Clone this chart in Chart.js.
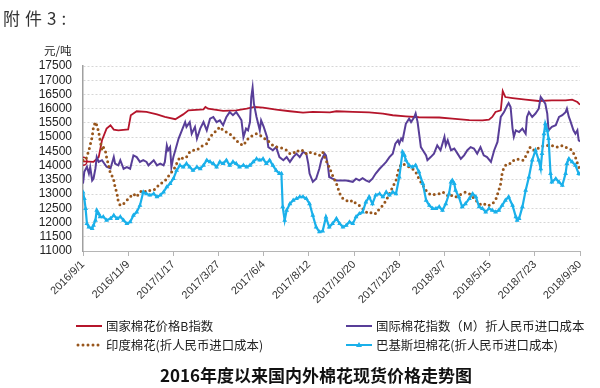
<!DOCTYPE html>
<html>
<head>
<meta charset="utf-8">
<script src="https://cdn.jsdelivr.net/npm/chart.js@4.4.0/dist/chart.umd.min.js"></script>
<style>
body { margin: 0; background: #fff; }
#wrap { position: relative; width: 600px; height: 388px; overflow: hidden; font-family: "Noto Sans CJK SC", sans-serif; color: #222; }
#chart { position: absolute; left: 0; top: 0; }
.txt { position: absolute; white-space: nowrap; }
.lg { position: absolute; display: flex; align-items: center; height: 16px; font-size: 12.4px; white-space: nowrap; }
.lg svg { margin-right: 4px; }
</style>
</head>
<body>
<div id="wrap">
  <canvas id="chart" width="600" height="388"></canvas>
  <div class="txt" style="left:3px;top:5px;font-size:17px;letter-spacing:5px;color:#333;">附件3:</div>
  <div class="txt" style="left:44px;top:42px;font-size:11.5px;">元/吨</div>

  <div class="lg" style="left:76px;top:318px">
    <svg width="26" height="10"><line x1="0" y1="5" x2="26" y2="5" stroke="#b5152b" stroke-width="2"/></svg>
    <span>国家棉花价格B指数</span>
  </div>
  <div class="lg" style="left:346px;top:318px">
    <svg width="26" height="10"><line x1="0" y1="5" x2="26" y2="5" stroke="#583e98" stroke-width="2"/></svg>
    <span>国际棉花指数（M）折人民币进口成本</span>
  </div>
  <div class="lg" style="left:76px;top:337px">
    <svg width="26" height="10"><line x1="2" y1="5" x2="25" y2="5" stroke="#98561c" stroke-width="3" stroke-dasharray="0 5" stroke-linecap="round"/></svg>
    <span>印度棉花(折人民币进口成本)</span>
  </div>
  <div class="lg" style="left:346px;top:337px">
    <svg width="26" height="10"><line x1="0" y1="5" x2="26" y2="5" stroke="#1ab0ea" stroke-width="2"/><polygon points="13,2 16,7 10,7" fill="#1ab0ea"/></svg>
    <span>巴基斯坦棉花(折人民币进口成本)</span>
  </div>

  <div class="txt" style="left:160px;top:362px;font-size:17px;font-weight:bold;color:#111;">2016年度以来国内外棉花现货价格走势图</div>
</div>

<script>
// days counted from 2016/9/1, values in 元/吨
const redDays = [0,16,24,29,36,42,47,54,69,73,82,97,113,125,141,153,161,184,187,191,214,234,250,262,275,295,316,336,351,377,387,412,437,458,473,493,513,544,564,590,610,620,625,630,638,641,645,656,676,696,716,737,747,755,759];
const redVals = [14150,14130,14300,14890,15300,15420,15265,15240,15275,15770,15910,15885,15800,15710,15630,15800,15940,15975,16060,16000,15920,15940,16000,16060,16040,15965,15910,15860,15885,15870,15910,15885,15870,15825,15770,15730,15700,15690,15650,15600,15590,15615,15710,15885,15940,16620,16410,16375,16320,16270,16290,16290,16320,16235,16140];

const purpleDays = [0,2,6,9,11,14,16,19,21,24,29,36,42,47,49,54,57,62,67,72,77,82,87,92,97,100,108,113,118,123,125,128,130,133,135,138,141,146,151,156,158,163,166,171,174,179,184,189,194,199,204,209,214,219,224,229,234,239,242,245,249,252,255,257,259,261,265,270,272,276,281,283,290,295,300,306,311,316,321,326,331,336,341,344,346,351,356,361,364,369,371,374,376,381,387,392,402,412,417,422,427,432,437,442,447,453,458,463,468,473,477,481,483,486,488,493,498,501,506,508,511,513,516,519,524,526,531,536,541,546,552,554,557,562,567,572,577,582,587,592,597,602,607,612,617,623,628,633,638,643,648,650,653,656,658,661,666,671,676,678,681,686,691,696,699,701,706,709,711,716,722,727,732,737,739,742,744,749,752,755,757,759];
const purpleVals = [13370,13780,13960,13720,13950,13480,13540,13900,14300,14130,14190,13960,13900,14300,14070,14010,14190,13890,13950,13890,14360,14300,14130,14190,14130,14010,14190,14010,14070,14010,14130,14710,14540,14650,13950,14300,14540,14950,15240,15530,15360,15530,15120,15360,14950,15300,15530,15240,15650,15710,15530,15590,15420,15710,15880,15770,15880,15710,15590,15000,15300,15240,15530,16410,16740,16180,15710,15240,15590,15360,15010,14650,14540,14650,14300,14190,14300,14130,14300,14420,14300,14480,14420,14070,13720,13430,13540,13900,14190,14420,14360,14010,13600,13540,13480,13480,13480,13430,13540,13480,13560,13480,13430,13540,13720,13890,14010,14130,14300,14420,14770,14890,14770,14950,14890,15470,15650,15530,15710,15830,15530,15180,14650,14540,14360,14190,14300,14420,14710,14540,15010,14710,14890,14540,14600,14420,14240,14360,14540,14650,14600,14420,14650,14360,14300,14130,14540,14830,15710,15880,16120,16200,16060,15300,15010,15240,15180,15300,15120,15710,15880,15710,15830,16000,16410,16350,16180,15830,15240,15360,15420,15710,15770,15880,16000,15710,15590,15240,15120,15240,14890,14850];

const brownDays = [0,4,9,14,16,19,21,24,26,29,31,34,36,39,42,44,47,49,52,54,57,62,67,72,77,82,87,92,97,102,108,113,118,123,128,133,138,143,148,153,158,163,168,174,179,184,189,194,199,204,209,214,219,224,229,234,239,245,250,255,260,265,270,275,280,285,290,295,300,305,311,316,321,326,331,336,341,346,351,356,361,366,371,376,381,387,392,397,402,407,412,417,422,427,432,437,442,447,453,458,463,468,473,478,483,488,493,498,503,508,513,519,524,529,534,539,544,549,554,559,564,569,574,579,584,590,595,600,605,610,615,620,625,630,635,638,640,643,648,653,658,663,668,673,678,683,689,694,699,704,716,722,727,732,737,742,747,752,757,759];
const brownVals = [14190,14190,14540,15010,15360,15530,15420,15180,14890,14540,14650,14540,14300,14010,13720,13660,13480,13250,13010,12720,12600,12660,12780,12900,13010,12900,13070,13130,13070,13130,13130,13250,13370,13420,13540,13720,13830,14070,14300,14240,14300,14480,14540,14540,14650,14710,14770,15010,15120,15240,15360,15240,15180,15120,15010,14890,14770,14710,14890,15010,15060,15120,15060,15010,14890,14830,14710,14650,14650,14600,14540,14420,14420,14540,14480,14540,14420,14480,14420,14420,14360,14480,14190,13950,13660,13370,13020,12840,12780,12720,12780,12660,12600,12490,12370,12310,12370,12310,12490,12600,12780,13010,13250,13480,13950,14070,14010,13950,13890,13780,13540,13310,13130,13010,12960,13010,13010,13070,13010,12900,12960,12900,12960,13010,13070,13010,12900,12780,12660,12600,12660,12600,12660,12780,13130,13370,13720,13950,14070,14070,14190,14240,14190,14190,14420,14650,14540,14600,14650,14710,14710,14650,14650,14710,14650,14600,14540,14300,13950,13900];

const cyanDays = [0,2,4,6,9,14,16,19,21,24,26,31,36,42,47,52,57,62,67,72,77,82,87,92,97,102,108,113,118,123,128,133,138,143,148,153,158,163,168,174,179,184,189,194,199,204,209,214,219,224,229,234,239,245,250,255,260,265,270,275,280,285,290,295,300,303,305,308,311,316,321,326,331,336,341,346,351,356,361,366,371,376,381,387,392,397,402,407,412,417,422,427,432,437,442,447,453,458,463,468,473,478,483,488,491,493,498,503,508,513,519,524,529,534,539,544,549,554,559,562,564,567,569,574,579,584,590,595,600,605,610,615,620,625,630,635,640,645,650,656,661,663,666,671,676,681,686,691,696,699,701,704,706,709,711,714,716,722,727,732,737,739,742,747,752,757,759];
const cyanVals = [13070,12840,12490,11960,11840,11790,11900,12080,12430,12310,12200,12200,12080,12140,12250,12140,12200,12080,11960,12020,12250,12370,12600,13070,13010,12960,13010,12900,12960,13070,13250,13370,13540,13830,14010,13950,14070,13950,13830,13950,13890,14010,14190,14130,14070,13950,14130,14070,14190,14010,14130,14070,13950,14010,13950,14010,14130,14240,14190,14240,14070,14190,14010,13830,13720,13720,12550,12080,12430,12660,12780,12840,12900,12900,12840,12660,12250,11840,11670,11700,12190,11840,11960,12140,11960,11840,11900,12020,11960,12200,12310,12370,12720,12900,12660,12960,13010,12900,13070,12960,13070,13010,13600,14480,14360,14190,14010,13950,14010,13780,13370,12780,12600,12490,12490,12550,12430,12660,13010,13420,13480,13370,13130,12900,12550,12660,12840,13010,12900,12550,12490,12370,12490,12430,12370,12430,12600,12780,12900,12600,12200,12080,12140,12550,13130,13600,14190,14540,14190,13890,14420,15120,15470,15240,14950,13720,13420,13540,13420,13310,13720,14070,14240,14130,14010,13720,13700];

const xMax = 759;
const xStep = 69;
const yMin = 11000;
const yMax = 17500;
const yStep = 500;

function pts(days, vals) {
    return days.map(function (d, i) { return { x: d, y: vals[i] }; });
}

function dayLabel(v) {
    let t = new Date(2016, 8, 1 + Math.round(v));
    return t.getFullYear() + '/' + (t.getMonth() + 1) + '/' + t.getDate();
}

let ctx = document.getElementById('chart').getContext('2d');
const cottonChart = new Chart(ctx, {
    type: 'line',
    data: {
        datasets: [{
            label: '国家棉花价格B指数',
            data: pts(redDays, redVals),
            borderColor: '#b5152b',
            borderWidth: 1.8,
            pointRadius: function (c) { return c.dataIndex === 0 ? 4 : 0; },
            pointBorderColor: '#b5152b',
            pointBackgroundColor: 'rgba(0,0,0,0)',
            pointBorderWidth: 1.5,
            tension: 0,
            order: 4
        }, {
            label: '国际棉花指数（M）折人民币进口成本',
            data: pts(purpleDays, purpleVals),
            borderColor: '#583e98',
            borderWidth: 2,
            pointRadius: 0,
            tension: 0,
            order: 3
        }, {
            label: '印度棉花(折人民币进口成本)',
            data: pts(brownDays, brownVals),
            borderColor: '#98561c',
            borderWidth: 3,
            borderDash: [0, 5],
            borderCapStyle: 'round',
            pointRadius: 0,
            tension: 0,
            order: 2
        }, {
            label: '巴基斯坦棉花(折人民币进口成本)',
            data: pts(cyanDays, cyanVals),
            borderColor: '#1ab0ea',
            backgroundColor: '#1ab0ea',
            borderWidth: 2.2,
            pointStyle: 'triangle',
            pointRadius: 2.8,
            pointBorderWidth: 0,
            pointBackgroundColor: '#1ab0ea',
            tension: 0,
            order: 1
        }]
    },
    options: {
        responsive: false,
        animation: false,
        devicePixelRatio: 1,
        layout: { padding: { left: 0, right: 20, top: 66, bottom: 0 } },
        plugins: {
            legend: { display: false },
            tooltip: { enabled: false }
        },
        scales: {
            x: {
                type: 'linear',
                min: 0,
                max: xMax,
                afterFit: function (s) { s.height = 137; },
                ticks: {
                    stepSize: xStep,
                    autoSkip: false,
                    maxRotation: 45,
                    minRotation: 45,
                    padding: 2,
                    color: '#333',
                    font: { family: 'Liberation Sans', size: 11 },
                    callback: function (v) { return dayLabel(v); }
                },
                grid: {
                    drawOnChartArea: false,
                    drawTicks: true,
                    tickLength: 5,
                    color: '#b5b5b5'
                },
                border: { display: true, color: '#b5b5b5', width: 1 }
            },
            y: {
                min: yMin,
                max: yMax,
                afterFit: function (s) { s.width = 83; },
                ticks: {
                    stepSize: yStep,
                    autoSkip: false,
                    padding: 11,
                    color: '#222',
                    font: { family: 'Liberation Sans', size: 12 },
                    callback: function (v) { return String(v); }
                },
                grid: {
                    drawTicks: false,
                    color: '#d6d6d6',
                    lineWidth: 1
                },
                border: { display: true, color: '#a0a0a0', width: 1.5, dash: [2, 2] }
            }
        }
    }
});
</script>
</body>
</html>
